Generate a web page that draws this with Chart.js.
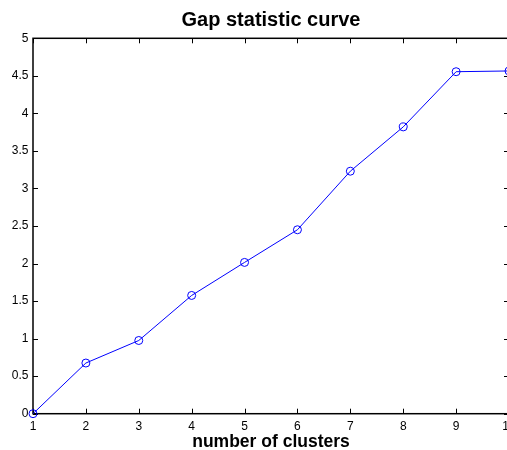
<!DOCTYPE html>
<html>
<head>
<meta charset="utf-8">
<script src="https://cdn.jsdelivr.net/npm/chart.js@4.4.0/dist/chart.umd.min.js"></script>
<style>
  html, body { margin: 0; padding: 0; background: #fff; overflow: hidden; }
  canvas { display: block; }
</style>
</head>
<body>
<canvas id="gapChart" width="530" height="450"></canvas>
<script>
// number of clusters on the x axis
const clusterLabels = ['1', '2', '3', '4', '5', '6', '7', '8', '9', '10'];
// gap statistic for each cluster count
const gapValues = [0.0, 0.675, 0.975, 1.575, 2.015, 2.45, 3.23, 3.82, 4.555, 4.565];
// y axis tick labels
const yTickLabels = ['0', '0.5', '1', '1.5', '2', '2.5', '3', '3.5', '4', '4.5', '5'];

const fontFamily = '"Liberation Sans", Helvetica, Arial, sans-serif';

// MATLAB style box with inward ticks on all four sides
const boxPlugin = {
    id: 'matlabBox',
    beforeDatasetsDraw(chart) {
        const { ctx, chartArea, scales } = chart;
        const { left, right, top, bottom } = chartArea;
        const tickLen = 5;
        ctx.save();
        ctx.strokeStyle = '#000';
        ctx.lineWidth = 1.5;
        ctx.strokeRect(left, top, right - left, bottom - top);
        ctx.lineWidth = 1;
        ctx.beginPath();
        scales.x.ticks.forEach((t, i) => {
            const px = Math.round(scales.x.getPixelForTick(i)) + 0.5;
            ctx.moveTo(px, bottom);
            ctx.lineTo(px, bottom - tickLen);
            ctx.moveTo(px, top);
            ctx.lineTo(px, top + tickLen);
        });
        scales.y.ticks.forEach((t, i) => {
            const py = Math.round(scales.y.getPixelForTick(i)) + 0.5;
            ctx.moveTo(left, py);
            ctx.lineTo(left + tickLen, py);
            ctx.moveTo(right, py);
            ctx.lineTo(right - tickLen, py);
        });
        ctx.stroke();
        ctx.restore();
    }
};

const ctx = document.getElementById('gapChart').getContext('2d');
const gapChart = new Chart(ctx, {
    type: 'line',
    data: {
        labels: clusterLabels,
        datasets: [{
            data: gapValues,
            borderColor: '#0000ff',
            borderWidth: 1,
            backgroundColor: 'rgba(0,0,0,0)',
            pointStyle: 'circle',
            pointRadius: 4,
            pointBorderWidth: 1,
            pointBorderColor: '#0000ff',
            pointBackgroundColor: 'rgba(0,0,0,0)',
            tension: 0,
            fill: false,
            clip: false
        }]
    },
    options: {
        responsive: false,
        animation: false,
        devicePixelRatio: 1,
        layout: { padding: { left: 0, right: 21, top: 0, bottom: 0 } },
        plugins: {
            legend: { display: false },
            tooltip: { enabled: false },
            title: { display: false }
        },
        scales: {
            // top axis only carries the chart title, so it centres over the axes
            top: {
                type: 'category',
                position: 'top',
                offset: false,
                grid: { display: false, drawTicks: false },
                border: { display: false },
                ticks: { display: false },
                title: {
                    display: true,
                    text: 'Gap statistic curve',
                    color: '#000',
                    font: { family: fontFamily, size: 20, weight: 'bold', lineHeight: 1.2 },
                    padding: { top: 8, bottom: 0 }
                },
                afterFit(scale) { scale.height = 38.3; }
            },
            x: {
                type: 'category',
                offset: false,
                grid: { display: false, drawTicks: false },
                border: { display: false },
                ticks: {
                    color: '#000',
                    font: { family: fontFamily, size: 12 },
                    padding: 5.5,
                    maxRotation: 0,
                    autoSkip: false
                },
                title: {
                    display: true,
                    text: 'number of clusters',
                    color: '#000',
                    font: { family: fontFamily, size: 17.5, weight: 'bold', lineHeight: 1 },
                    padding: { top: 0, bottom: -0.5 }
                },
                afterFit(scale) { scale.height = 36.3; }
            },
            y: {
                min: 0,
                max: 5,
                grid: { display: false, drawTicks: false },
                border: { display: false },
                ticks: {
                    stepSize: 0.5,
                    color: '#000',
                    font: { family: fontFamily, size: 12 },
                    padding: 4.5,
                    callback: (value, index) => yTickLabels[index]
                },
                afterFit(scale) { scale.width = 33; }
            }
        }
    },
    plugins: [boxPlugin]
});
</script>
</body>
</html>
